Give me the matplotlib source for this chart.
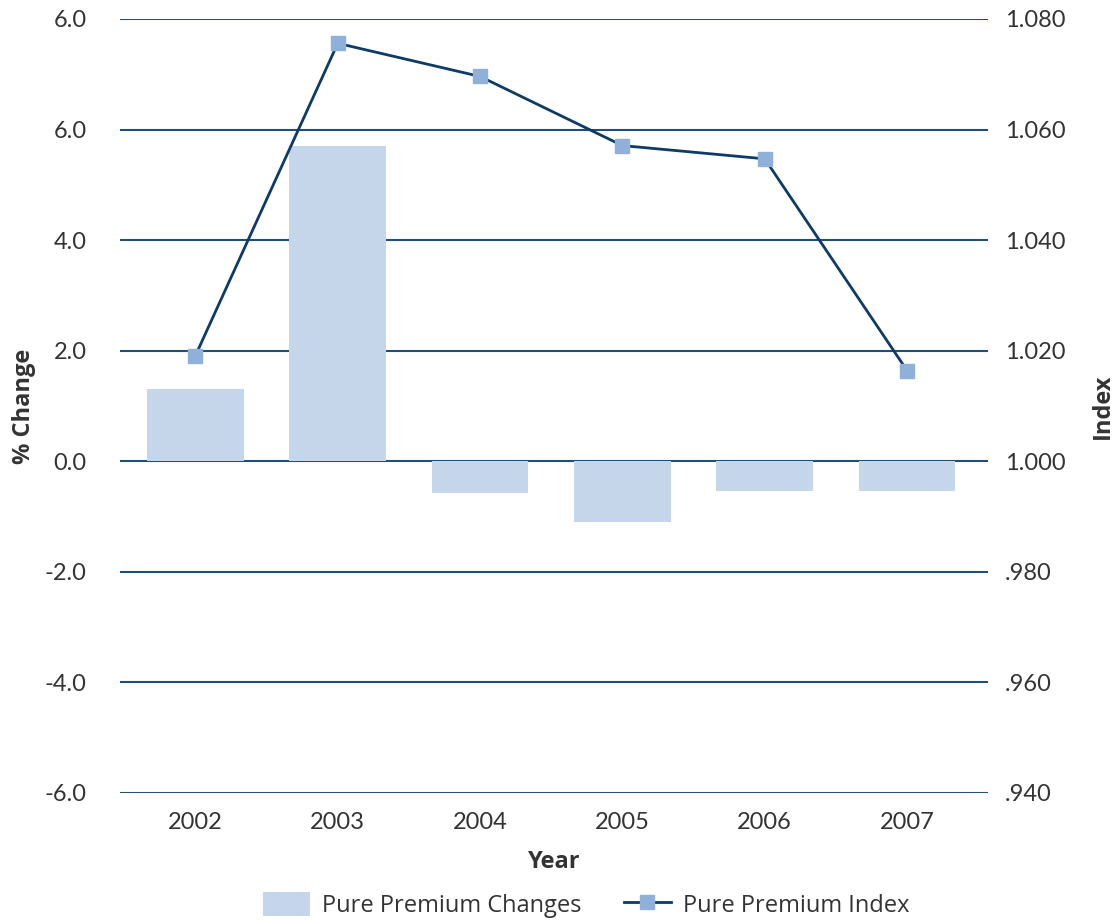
import numpy as np
import matplotlib.pyplot as plt

# data
years = ['2002', '2003', '2004', '2005', '2006', '2007']
pct_change = [1.31, 5.71, -0.58, -1.09, -0.53, -0.53]
pp_index = [1.0191, 1.0756, 1.0696, 1.0571, 1.0547, 1.0164]
left_ticks = [-6, -4, -2, 0, 2, 4, 6, 8]
left_labels = ['-6.0', '-4.0', '-2.0', '0.0', '2.0', '4.0', '6.0', '6.0']
right_ticks = [0.94, 0.96, 0.98, 1.00, 1.02, 1.04, 1.06, 1.08]
right_labels = ['.940', '.960', '.980', '1.000', '1.020', '1.040', '1.060', '1.080']

bar_col = '#c5d6eb'
line_col = '#0d3a66'
mark_col = '#8fb0d8'
grid_col = '#1f4e79'
txt_col = '#333333'

plt.rcParams['font.family'] = ['Lato', 'DejaVu Sans']

fig = plt.figure(figsize=(11.16, 9.21), dpi=100)
ax = fig.add_axes([0.1075, 0.139, 0.778, 0.8404])
x = np.arange(len(years))

ax.bar(x, pct_change, width=0.68, color=bar_col, zorder=2, label='Pure Premium Changes')
ax.set_ylim(-6, 8)
ax.set_yticks(left_ticks)
ax.set_yticklabels(left_labels)
ax.set_xlim(-0.53, 5.57)
ax.set_xticks(x)
ax.set_xticklabels(years)
ax.yaxis.grid(True, color=grid_col, linewidth=1.5, zorder=1)
ax.set_axisbelow(True)
for s in ax.spines.values():
    s.set_visible(False)
ax.tick_params(axis='both', length=0, labelsize=17, colors=txt_col)
ax.tick_params(axis='y', pad=24)
ax.tick_params(axis='x', pad=14)
ax.set_ylabel('% Change', fontsize=17, fontweight='bold', color=txt_col,
              family=['Open Sans', 'DejaVu Sans'], labelpad=6)
ax.set_xlabel('Year', fontsize=17, fontweight='bold', color=txt_col,
              family=['Open Sans', 'DejaVu Sans'], labelpad=12)

ax2 = ax.twinx()
ax2.plot(x, pp_index, color=line_col, linewidth=2, marker='s', markersize=10,
         markerfacecolor=mark_col, markeredgecolor=mark_col, zorder=3,
         label='Pure Premium Index')
ax2.set_ylim(0.94, 1.08)
ax2.set_yticks(right_ticks)
ax2.set_yticklabels(right_labels)
for s in ax2.spines.values():
    s.set_visible(False)
ax2.tick_params(axis='y', length=0, labelsize=17, colors=txt_col, pad=12)
ax2.set_ylabel('Index', fontsize=17, fontweight='bold', color=txt_col,
               family=['Open Sans', 'DejaVu Sans'], labelpad=18)

h1, l1 = ax.get_legend_handles_labels()
h2, l2 = ax2.get_legend_handles_labels()
leg = fig.legend(h1 + h2, l1 + l2, loc='lower center', bbox_to_anchor=(0.525, -0.02),
                 ncol=2, frameon=False, handlelength=2.0, handleheight=1.2,
                 columnspacing=1.8, handletextpad=0.5,
                 prop={'family': ['Open Sans', 'DejaVu Sans'], 'size': 17})
for t in leg.get_texts():
    t.set_color(txt_col)

fig.savefig('out.png', dpi=100)
